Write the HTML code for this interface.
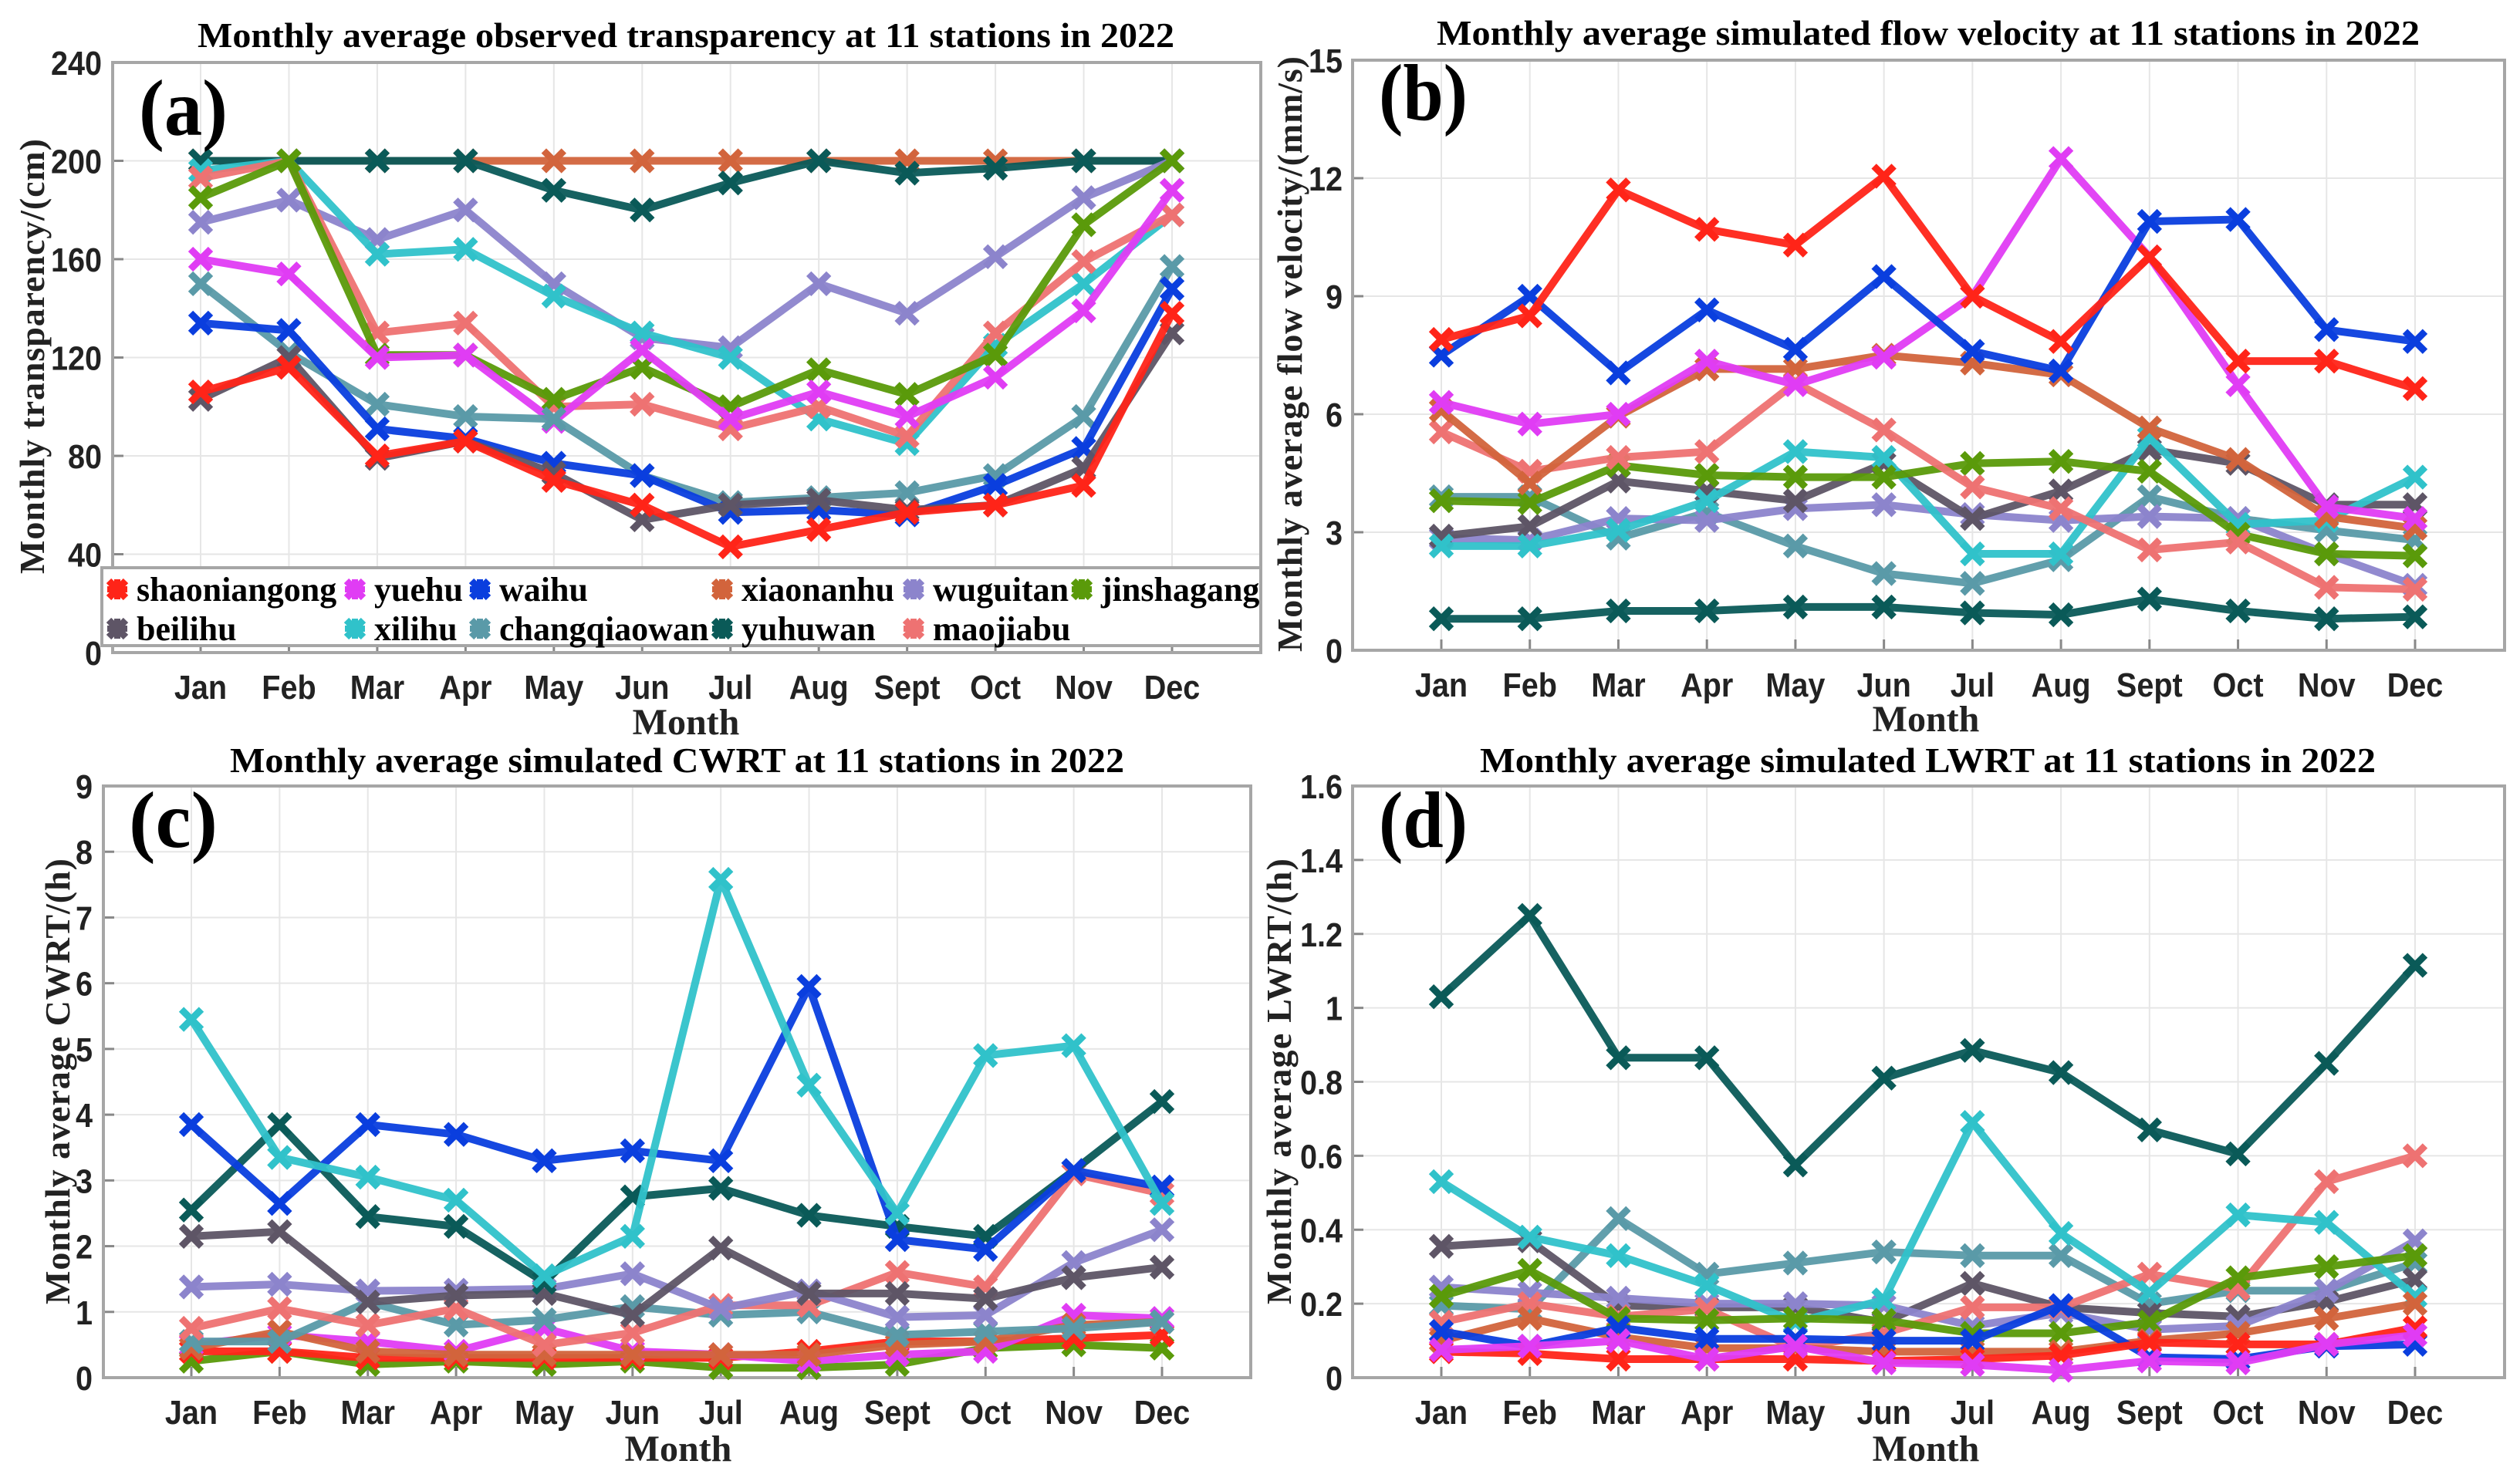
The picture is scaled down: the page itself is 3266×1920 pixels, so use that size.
<!DOCTYPE html>
<html><head><meta charset="utf-8">
<style>
html,body{margin:0;padding:0;background:#fff;}
svg{display:block;}
.tt{font-family:"Liberation Serif",serif;font-weight:bold;}
.tk{font-family:"Liberation Sans",sans-serif;font-weight:bold;}
</style></head>
<body>
<svg id="fig" width="3266" height="1920" viewBox="0 0 3266 1920" xmlns="http://www.w3.org/2000/svg"></svg>
<script>
const months = ["Jan","Feb","Mar","Apr","May","Jun","Jul","Aug","Sept","Oct","Nov","Dec"];
const stations = ["shaoniangong","yuehu","waihu","xiaonanhu","wuguitan","jinshagang","beilihu","xilihu","changqiaowan","yuhuwan","maojiabu"];
const stationColors = ["#ff2418","#e03cf4","#0a3ede","#d2643c","#8c84cc","#5a9a0a","#5e5566","#30c2ca","#5a9aa8","#0a5a58","#ee7272"];

// (a) transparency
const transShaoniangong = [106,116,80,86,70,60,43,50,57,60,68,138];
const transYuehu = [160,154,120,121,94,123,95,106,96,112,139,188];
const transWaihu = [134,131,91,87,77,72,57,58,56,68,83,148];
const transXiaonanhu = [200,200,200,200,200,200,200,200,200,200,200,200];
const transWuguitan = [175,184,168,180,150,128,124,150,138,161,185,200];
const transJinshagang = [185,200,121,121,103,116,100,115,105,121,174,200];
const transBeilihu = [103,120,79,86,73,54,60,62,58,60,75,130];
const transXilihu = [196,200,162,164,145,130,120,95,85,125,150,178];
const transChangqiaowan = [150,122,101,96,95,72,61,63,65,72,96,157];
const transYuhuwan = [200,200,200,200,188,180,191,200,195,197,200,200];
const transMaojiabu = [193,200,130,134,100,101,91,100,88,130,159,178];
const transTicks = [0,40,80,120,160,200,240];

// (b) flow velocity
const velShaoniangong = [7.9,8.5,11.7,10.7,10.3,12.05,9.0,7.85,10.0,7.35,7.35,6.65];
const velYuehu = [6.3,5.75,6.0,7.35,6.75,7.45,9.0,12.5,10.0,6.75,3.65,3.35];
const velWaihu = [7.5,9.0,7.05,8.65,7.65,9.5,7.6,7.1,10.9,10.95,8.15,7.85];
const velXiaonanhu = [6.1,4.25,5.95,7.15,7.15,7.5,7.3,7.0,5.65,4.85,3.4,3.1];
const velWuguitan = [2.85,2.8,3.35,3.3,3.6,3.7,3.45,3.3,3.4,3.35,2.45,1.65];
const velJinshagang = [3.8,3.75,4.7,4.45,4.4,4.4,4.75,4.8,4.55,2.95,2.45,2.4];
const velBeilihu = [2.9,3.15,4.3,4.05,3.8,4.75,3.35,4.05,5.1,4.75,3.7,3.7];
const velXilihu = [2.65,2.65,3.05,3.8,5.05,4.9,2.45,2.45,5.4,3.2,3.3,4.4];
const velChangqiaowan = [3.9,3.9,2.85,3.5,2.65,1.95,1.7,2.3,3.9,3.35,3.05,2.8];
const velYuhuwan = [0.8,0.8,1.0,1.0,1.1,1.1,0.95,0.9,1.3,1.0,0.8,0.85];
const velMaojiabu = [5.55,4.55,4.9,5.05,6.8,5.6,4.15,3.6,2.55,2.75,1.6,1.55];
const velTicks = [0,3,6,9,12,15];

// (c) CWRT
const cwrtShaoniangong = [0.4,0.4,0.3,0.3,0.3,0.3,0.3,0.4,0.55,0.55,0.6,0.65];
const cwrtYuehu = [0.5,0.65,0.55,0.4,0.75,0.4,0.35,0.25,0.35,0.4,0.95,0.9];
const cwrtWaihu = [3.85,2.65,3.85,3.7,3.3,3.45,3.3,5.95,2.1,1.95,3.15,2.9];
const cwrtXiaonanhu = [0.45,0.7,0.4,0.35,0.35,0.35,0.35,0.35,0.5,0.55,0.8,0.85];
const cwrtWuguitan = [1.38,1.42,1.32,1.33,1.35,1.58,1.05,1.32,0.92,0.95,1.75,2.25];
const cwrtJinshagang = [0.25,0.4,0.2,0.25,0.2,0.25,0.15,0.15,0.2,0.45,0.5,0.45];
const cwrtBeilihu = [2.15,2.22,1.15,1.25,1.28,0.95,1.97,1.28,1.28,1.2,1.52,1.68];
const cwrtXilihu = [5.45,3.35,3.05,2.7,1.55,2.15,7.58,4.45,2.5,4.9,5.05,2.65];
const cwrtChangqiaowan = [0.55,0.55,1.15,0.8,0.88,1.08,0.95,1.0,0.65,0.7,0.75,0.85];
const cwrtYuhuwan = [2.55,3.85,2.45,2.3,1.45,2.75,2.88,2.47,2.3,2.15,3.15,4.2];
const cwrtMaojiabu = [0.75,1.05,0.8,1.05,0.5,0.68,1.1,1.1,1.6,1.38,3.1,2.8];
const cwrtTicks = [0,1,2,3,4,5,6,7,8,9];

// (d) LWRT
const lwrtShaoniangong = [0.07,0.065,0.05,0.05,0.05,0.045,0.05,0.06,0.095,0.09,0.09,0.135];
const lwrtYuehu = [0.075,0.085,0.1,0.05,0.085,0.04,0.035,0.02,0.045,0.04,0.09,0.115];
const lwrtWaihu = [0.125,0.085,0.135,0.105,0.105,0.1,0.1,0.195,0.055,0.05,0.085,0.09];
const lwrtXiaonanhu = [0.1,0.16,0.11,0.08,0.08,0.07,0.07,0.07,0.1,0.12,0.16,0.2];
const lwrtWuguitan = [0.245,0.23,0.215,0.2,0.2,0.195,0.14,0.175,0.13,0.14,0.235,0.37];
const lwrtJinshagang = [0.22,0.29,0.16,0.155,0.16,0.155,0.12,0.12,0.15,0.27,0.3,0.33];
const lwrtBeilihu = [0.355,0.37,0.195,0.19,0.19,0.15,0.255,0.19,0.175,0.165,0.205,0.265];
const lwrtXilihu = [0.53,0.38,0.33,0.25,0.15,0.21,0.69,0.39,0.23,0.44,0.42,0.22];
const lwrtChangqiaowan = [0.195,0.185,0.43,0.28,0.31,0.34,0.33,0.33,0.2,0.235,0.235,0.31];
const lwrtYuhuwan = [1.03,1.25,0.865,0.865,0.575,0.81,0.885,0.825,0.67,0.605,0.85,1.115];
const lwrtMaojiabu = [0.15,0.2,0.165,0.185,0.08,0.12,0.19,0.19,0.28,0.24,0.53,0.6];
const lwrtTicks = [0,0.2,0.4,0.6,0.8,1,1.2,1.4,1.6];

const NS = "http://www.w3.org/2000/svg";
const svg = document.getElementById("fig");
function mk(tag, attrs, parent, text){
  const e = document.createElementNS(NS, tag);
  for (const k in attrs) e.setAttribute(k, attrs[k]);
  if (text !== undefined) e.textContent = text;
  (parent || svg).appendChild(e);
  return e;
}

const panels = [
  {id:"a", L:146,R:1634,T:81,B:846, x0:260, x11:1519, ymax:240, ticks:transTicks,
   series:[transShaoniangong,transYuehu,transWaihu,transXiaonanhu,transWuguitan,transJinshagang,transBeilihu,transXilihu,transChangqiaowan,transYuhuwan,transMaojiabu],
   order:[3,9,4,7,10,5,1,8,2,6,0],
   title:"Monthly average observed transparency at 11 stations in 2022", tx1:256,tx2:1522,ty:61,
   ylab:"Monthly transparency/(cm)", ylx:42, yly1:180, yly2:744,
   lab:"(a)", lx:180, ly:175, mx:889, my:952, tickR:132, legend:true},
  {id:"b", L:1753,R:3246,T:78,B:843, x0:1868, x11:3130, ymax:15, ticks:velTicks,
   series:[velShaoniangong,velYuehu,velWaihu,velXiaonanhu,velWuguitan,velJinshagang,velBeilihu,velXilihu,velChangqiaowan,velYuhuwan,velMaojiabu],
   order:[9,8,4,6,7,5,10,3,1,2,0],
   title:"Monthly average simulated flow velocity at 11 stations in 2022", tx1:1862,tx2:3136,ty:58,
   ylab:"Monthly average flow velocity/(mm/s)", ylx:1672, yly1:73, yly2:845,
   lab:"(b)", lx:1787, ly:155, mx:2496, my:948, tickR:1740},
  {id:"c", L:134,R:1621,T:1019,B:1786, x0:248, x11:1506, ymax:9, ticks:cwrtTicks,
   series:[cwrtShaoniangong,cwrtYuehu,cwrtWaihu,cwrtXiaonanhu,cwrtWuguitan,cwrtJinshagang,cwrtBeilihu,cwrtXilihu,cwrtChangqiaowan,cwrtYuhuwan,cwrtMaojiabu],
   order:[5,0,1,3,8,10,4,6,9,2,7],
   title:"Monthly average simulated CWRT at 11 stations in 2022", tx1:298,tx2:1457,ty:1001,
   ylab:"Monthly average CWRT/(h)", ylx:75, yly1:1113, yly2:1691,
   lab:"(c)", lx:167, ly:1098, mx:879, my:1894, tickR:120},
  {id:"d", L:1753,R:3246,T:1019,B:1786, x0:1868, x11:3130, ymax:1.6, ticks:lwrtTicks,
   series:[lwrtShaoniangong,lwrtYuehu,lwrtWaihu,lwrtXiaonanhu,lwrtWuguitan,lwrtJinshagang,lwrtBeilihu,lwrtXilihu,lwrtChangqiaowan,lwrtYuhuwan,lwrtMaojiabu],
   order:[8,6,4,10,7,5,3,2,0,1,9],
   title:"Monthly average simulated LWRT at 11 stations in 2022", tx1:1918,tx2:3079,ty:1001,
   ylab:"Monthly average LWRT/(h)", ylx:1658, yly1:1113, yly2:1691,
   lab:"(d)", lx:1787, ly:1098, mx:2496, my:1894, tickR:1740}
];

function marker(g, x, y, color, s){
  const m = mk("path", {d:`M${x-s},${y-s}L${x+s},${y+s}M${x-s},${y+s}L${x+s},${y-s}`, stroke:color, "stroke-width":9, "stroke-linecap":"butt", fill:"none"}, g);
  
  
}

panels.forEach(p => {
  const g = mk("g", {});
  
  
  const xs = i => p.x0 + (p.x11 - p.x0) * i / 11;
  const ys = v => p.B - (p.B - p.T) * v / p.ymax;
  p.ticks.forEach(t => {
    const gl = mk("line", {x1:p.L, x2:p.R, y1:ys(t), y2:ys(t), stroke:"#e6e6e6", "stroke-width":2}, g);
    
    
    const tk = mk("line", {x1:p.L, x2:p.L+14, y1:ys(t), y2:ys(t), stroke:"#888", "stroke-width":3}, g);
    
    
    const tl = mk("text", {x:0, y:0, "text-anchor":"end", "font-size":44, class:"tk", fill:"#222", transform:`translate(${p.tickR},${ys(t)+16}) scale(0.9,1)`}, g, String(t));
    
    
  });
  months.forEach((m, i) => {
    const gl = mk("line", {x1:xs(i), x2:xs(i), y1:p.T, y2:p.B, stroke:"#e6e6e6", "stroke-width":2}, g);
    
    
    const tk = mk("line", {x1:xs(i), x2:xs(i), y1:p.B, y2:p.B-14, stroke:"#888", "stroke-width":3}, g);
    
    
    const tl = mk("text", {x:0, y:0, "text-anchor":"middle", "font-size":44, class:"tk", fill:"#222", transform:`translate(${xs(i)},${p.B+60}) scale(0.9,1)`}, g, m);
    
    
  });
  const box = mk("rect", {x:p.L, y:p.T, width:p.R-p.L, height:p.B-p.T, fill:"none", stroke:"#a6a6a6", "stroke-width":4}, g);
  
  
  p.order.forEach(si => {
    const vals = p.series[si];
    const sg = mk("g", {}, g);
    
    
    const pts = vals.map((v, i) => xs(i).toFixed(1) + "," + ys(v).toFixed(1)).join(" ");
    const pl = mk("polyline", {points:pts, fill:"none", stroke:stationColors[si], "stroke-width":10, "stroke-linejoin":"round", opacity:0.95}, sg);
    
    
    vals.forEach((v, i) => marker(sg, xs(i), ys(v), stationColors[si], 13));
  });
  const tt = mk("text", {x:p.tx1, y:p.ty, "font-size":46, class:"tt", textLength:p.tx2-p.tx1, lengthAdjust:"spacingAndGlyphs", fill:"#000"}, g, p.title);
  
  
  const cy = (p.yly1 + p.yly2) / 2;
  const yl = mk("text", {x:0, y:0, "font-size":46, class:"tt", "text-anchor":"middle", textLength:p.yly2-p.yly1, lengthAdjust:"spacing", transform:`translate(${p.ylx+15},${cy}) rotate(-90)`, fill:"#222"}, g, p.ylab);
  
  
  const xl = mk("text", {x:p.mx, y:p.my, "font-size":48, class:"tt", "text-anchor":"middle", fill:"#222"}, g, "Month");
  
  
  const pl = mk("text", {x:p.lx, y:p.ly, "font-size":104, class:"tt", fill:"#000", textLength:115, lengthAdjust:"spacingAndGlyphs"}, g, p.lab);
  
  

  if (p.legend){
    const lg = mk("g", {}, g);
    
    
    const lb = mk("rect", {x:132, y:736, width:1502, height:101, fill:"#fff", stroke:"#a6a6a6", "stroke-width":4}, lg);
    
    
    const cols = [152, 460, 622, 936, 1184, 1402];
    const rows = [764, 815];
    const layout = [[0,0,0],[1,0,1],[2,0,2],[3,0,3],[4,0,4],[5,0,5],[6,1,0],[7,1,1],[8,1,2],[9,1,3],[10,1,4]];
    layout.forEach(([si, r, c]) => {
      const eg = mk("g", {}, lg);
      
      
      const x = cols[c], y = rows[r];
      marker(eg, x, y, stationColors[si], 11);
      mk("line", {x1:x-13, x2:x+13, y1:y, y2:y, stroke:stationColors[si], "stroke-width":8}, eg);
      mk("line", {x1:x, x2:x, y1:y-13, y2:y+13, stroke:stationColors[si], "stroke-width":8}, eg);
      const t = mk("text", {x:x+25, y:y+15, "font-size":44, class:"tt", fill:"#000"}, eg, stations[si]);
      
      
    });
  }
});
</script>
</body></html>
